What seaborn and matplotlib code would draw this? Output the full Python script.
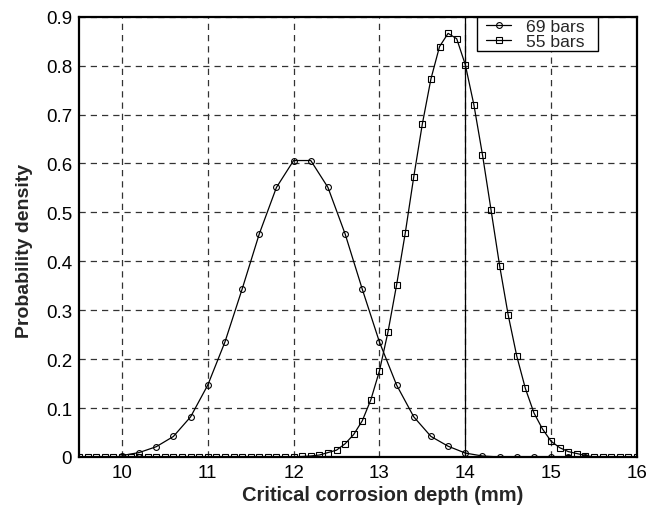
import numpy as np
import pandas as pd
import matplotlib
matplotlib.use("Agg")
import matplotlib.pyplot as plt
from matplotlib.patches import Rectangle
import seaborn as sns

# ---- data ----
x_69 = [10.0, 10.2, 10.4, 10.6, 10.8, 11.0, 11.2, 11.4, 11.6, 11.8, 12.0, 12.2,
        12.4, 12.6, 12.8, 13.0, 13.2, 13.4, 13.6, 13.8, 14.0, 14.2, 14.4, 14.6,
        14.8, 15.0, 15.2, 15.4]
y_69 = [0.003, 0.009, 0.021, 0.042, 0.082, 0.147, 0.235, 0.343, 0.456, 0.551, 0.606, 0.606,
        0.551, 0.456, 0.343, 0.235, 0.147, 0.082, 0.042, 0.022, 0.008, 0.002, 0.0, 0.0,
        0.0, 0.0, 0.0, 0.0]

x_55 = [9.5, 9.6, 9.7, 9.8, 9.9, 10.0, 10.1, 10.2, 10.3, 10.4, 10.5, 10.6, 10.7, 10.8,
        10.9, 11.0, 11.1, 11.2, 11.3, 11.4, 11.5, 11.6, 11.7, 11.8, 11.9, 12.0, 12.1,
        12.2, 12.3, 12.4, 12.5, 12.6, 12.7, 12.8, 12.9, 13.0, 13.1, 13.2, 13.3, 13.4,
        13.5, 13.6, 13.7, 13.8, 13.9, 14.0, 14.1, 14.2, 14.3, 14.4, 14.5, 14.6, 14.7,
        14.8, 14.9, 15.0, 15.1, 15.2, 15.3, 15.4, 15.5, 15.6, 15.7, 15.8, 15.9, 16.0]
y_55 = [0.0, 0.0, 0.0, 0.0, 0.0, 0.0, 0.0, 0.0, 0.0, 0.0, 0.0, 0.0, 0.0, 0.0,
        0.0, 0.0, 0.0, 0.0, 0.0, 0.0, 0.0, 0.0, 0.0, 0.0, 0.0, 0.0, 0.001,
        0.002, 0.004, 0.009, 0.014, 0.027, 0.046, 0.074, 0.117, 0.176, 0.256, 0.352, 0.457, 0.573,
        0.681, 0.773, 0.839, 0.866, 0.855, 0.802, 0.720, 0.618, 0.505, 0.391, 0.290, 0.206, 0.140,
        0.090, 0.057, 0.032, 0.019, 0.011, 0.007, 0.003, 0.0, 0.0, 0.0, 0.0, 0.0, 0.0]

labels = ["69 bars", "55 bars"]
x_ticks = [10, 11, 12, 13, 14, 15, 16]
y_ticks = [0, 0.1, 0.2, 0.3, 0.4, 0.5, 0.6, 0.7, 0.8, 0.9]
y_tick_labels = ["0", "0.1", "0.2", "0.3", "0.4", "0.5", "0.6", "0.7", "0.8", "0.9"]
ref_line_x = 14.0
x_label = "Critical corrosion depth (mm)"
y_label = "Probability density"

# ---- plot ----
sns.set_style("white")
plt.rcParams["font.family"] = ["Liberation Sans", "DejaVu Sans"]

fig = plt.figure(figsize=(6.47, 5.06), dpi=100)
ax = fig.add_axes([0.1221, 0.0949, 0.8624, 0.8701])

df69 = pd.DataFrame({"x": x_69, "y": y_69})
df55 = pd.DataFrame({"x": x_55, "y": y_55})

sns.lineplot(data=df69, x="x", y="y", ax=ax, color="black", linewidth=0.9,
             marker="o", markersize=4.2, markerfacecolor="none",
             mec="black", mew=0.8, label=labels[0], zorder=3)
sns.lineplot(data=df55, x="x", y="y", ax=ax, color="black", linewidth=0.9,
             marker="s", markersize=4.0, markerfacecolor="none",
             mec="black", mew=0.8, label=labels[1], zorder=3)

ax.axvline(ref_line_x, color="black", linewidth=0.9, zorder=2)

ax.set_xlim(9.5, 16)
ax.set_ylim(0, 0.9)
ax.set_xticks(x_ticks)
ax.set_yticks(y_ticks)
ax.set_yticklabels(y_tick_labels)
ax.tick_params(axis="both", direction="in", length=0, labelsize=13.5, pad=5,
               colors="black")

ax.grid(True, color="#333333", linestyle=(0, (5, 4)), linewidth=0.9)
ax.set_axisbelow(True)
for s in ax.spines.values():
    s.set_color("black")
    s.set_linewidth(1.6)
    s.set_visible(True)

ax.set_xlabel(x_label, fontsize=14.5, fontweight="bold", labelpad=3, x=0.545)
ax.set_ylabel(y_label, fontsize=14, fontweight="bold", labelpad=9, y=0.471)

# legend box (MATLAB style, wider on the right)
box_x0, box_x1, box_y0 = 0.713, 0.930, 0.921
ax.add_patch(Rectangle((box_x0, box_y0), box_x1 - box_x0, 1.0 - box_y0,
                       transform=ax.transAxes, facecolor="white",
                       edgecolor="black", linewidth=1.0, zorder=5))
leg = ax.legend(loc="upper left", bbox_to_anchor=(0.726, 1.0), borderaxespad=0,
                fontsize=12.6, frameon=False, handlelength=1.45, handletextpad=0.85,
                labelspacing=0.0, borderpad=0.1)
leg.set_zorder(6)

fig.savefig("out.png", dpi=100, facecolor="white")
